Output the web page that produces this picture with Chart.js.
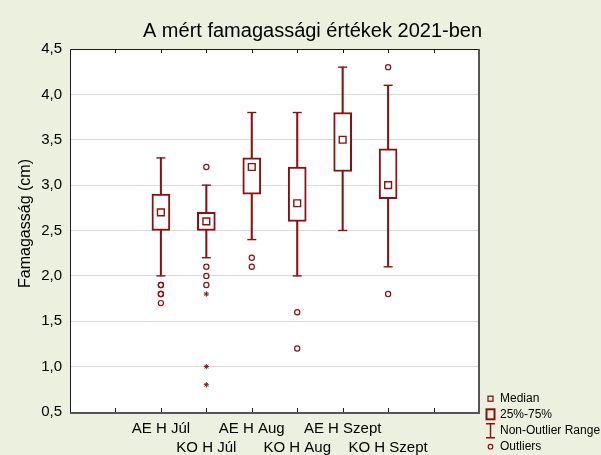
<!DOCTYPE html>
<html><head><meta charset="utf-8">
<script src="https://cdn.jsdelivr.net/npm/chart.js@4/dist/chart.umd.min.js"></script>
<style>html,body{margin:0;padding:0;background:#EBF1DE;}canvas{display:block;}</style>
</head><body>
<canvas id="c" width="601" height="455"></canvas>
<script>
const chartTitle = 'A mért famagassági értékek 2021-ben';
const yAxisTitle = 'Famagasság (cm)';
const categories = ['AE H Júl','KO H Júl','AE H Aug','KO H Aug','AE H Szept','KO H Szept'];
const medianValues = [2.7, 2.6, 3.2, 2.8, 3.5, 3.0];
const q1Values     = [2.5, 2.5, 2.9, 2.6, 3.15, 2.85];
const q3Values     = [2.9, 2.7, 3.3, 3.2, 3.8, 3.4];
const whiskerLow   = [2.0, 2.2, 2.4, 2.0, 2.5, 2.1];
const whiskerHigh  = [3.3, 3.0, 3.8, 3.8, 4.3, 4.1];
const outlierValues = [[1.9,1.9,1.8,1.8,1.7],[3.2,2.1,2.0,1.9],[2.2,2.1],[1.6,1.2],[],[4.3,1.8]];
const extremeValues = [[],[1.8,1.0,0.8],[],[],[],[]];
const legendLabels = ['Median','25%-75%','Non-Outlier Range','Outliers'];
const yTickValues = [0.5,1.0,1.5,2.0,2.5,3.0,3.5,4.0,4.5];
const xTickPositions = [1,2,3,4,5,6,7,8];

const RED = '#8b1111';
const BG = '#EBF1DE';
const FONT = '"Liberation Sans", Arial, sans-serif';
const pos = i => i + 2;

const boxData = categories.map((c,i)=>({x:pos(i), y:[q1Values[i], q3Values[i]]}));
const whiskerData = categories.map((c,i)=>({x:pos(i), y:[whiskerLow[i], whiskerHigh[i]]}));
const capData = categories.flatMap((c,i)=>[{x:pos(i), y:whiskerLow[i]},{x:pos(i), y:whiskerHigh[i]}]);
const medianData = categories.map((c,i)=>({x:pos(i), y:medianValues[i]}));
const outlierData = categories.flatMap((c,i)=>outlierValues[i].map(v=>({x:pos(i), y:v})));
const extremeData = categories.flatMap((c,i)=>extremeValues[i].map(v=>({x:pos(i), y:v})));

const decor = {
  id: 'decor',
  beforeDraw(chart) {
    const {ctx, chartArea:a, width, height} = chart;
    ctx.save();
    ctx.fillStyle = BG; ctx.fillRect(0,0,width,height);
    ctx.fillStyle = '#fff'; ctx.fillRect(a.left, a.top, a.right-a.left, a.bottom-a.top);
    ctx.restore();
  },
  afterDraw(chart) {
    const {ctx, chartArea:a} = chart;
    const L = Math.round(a.left), R = Math.round(a.right), T = Math.round(a.top), B = Math.round(a.bottom);
    ctx.save();
    // frame
    ctx.strokeStyle = '#1a1a1a'; ctx.lineWidth = 1;
    ctx.beginPath();
    ctx.moveTo(L+0.5, B); ctx.lineTo(L+0.5, T+0.5); ctx.lineTo(R, T+0.5);
    ctx.stroke();
    ctx.strokeStyle = '#555'; ctx.lineWidth = 2;
    ctx.beginPath();
    ctx.moveTo(R, T); ctx.lineTo(R, B+1); ctx.lineTo(L, B+1);
    ctx.stroke();
    // inward tick marks on x
    const xs = chart.scales.x;
    ctx.strokeStyle = '#1a1a1a'; ctx.lineWidth = 1;
    ctx.beginPath();
    xTickPositions.forEach(v => {
      const px = Math.round(xs.getPixelForValue(v)) + 0.5;
      ctx.moveTo(px, T); ctx.lineTo(px, T+4);
      ctx.moveTo(px, B); ctx.lineTo(px, B-4);
    });
    ctx.stroke();
    // title
    ctx.fillStyle = '#000';
    ctx.font = '20px ' + FONT;
    ctx.textAlign = 'center'; ctx.textBaseline = 'alphabetic';
    ctx.fillText(chartTitle, 312.5, 36.5);
    // y title
    ctx.save();
    ctx.translate(30, 223.5);
    ctx.rotate(-Math.PI/2);
    ctx.font = '16px ' + FONT;
    ctx.fillText(yAxisTitle, 0, 0);
    ctx.restore();
    // legend
    const lx = 490.5, tx = 500;
    const rows = [398.7, 414.3, 430.7, 446.7];
    ctx.strokeStyle = RED;
    ctx.lineWidth = 1.3;
    ctx.strokeRect(lx-2.5, rows[0]-2.5, 5, 5);
    ctx.lineWidth = 2;
    ctx.strokeRect(lx-4, rows[1]-5, 8, 10);
    ctx.lineWidth = 1.4;
    ctx.beginPath();
    ctx.moveTo(lx-4.5, rows[2]-7); ctx.lineTo(lx+4.5, rows[2]-7);
    ctx.moveTo(lx, rows[2]-7); ctx.lineTo(lx, rows[2]+7);
    ctx.moveTo(lx-4.5, rows[2]+7); ctx.lineTo(lx+4.5, rows[2]+7);
    ctx.stroke();
    ctx.lineWidth = 1.2;
    ctx.beginPath(); ctx.arc(lx, rows[3], 2.3, 0, Math.PI*2); ctx.stroke();
    ctx.fillStyle = '#000';
    ctx.font = '12px ' + FONT;
    ctx.textAlign = 'left'; ctx.textBaseline = 'middle';
    legendLabels.forEach((t,k) => ctx.fillText(t, tx, rows[k]));
    ctx.restore();
  }
};

new Chart(document.getElementById('c'), {
  type: 'bar',
  data: {
    datasets: [
      { type:'scatter', label:'Median', data: medianData, order: 0,
        pointStyle:'rect', radius:4.8, borderWidth:1.4, borderColor:RED, backgroundColor:'#fff', showLine:false },
      { type:'scatter', label:'Outliers', data: outlierData, order: 0,
        pointStyle:'circle', radius:2.6, borderWidth:1.2, borderColor:RED, backgroundColor:'rgba(255,255,255,0)', showLine:false },
      { type:'scatter', label:'Extremes', data: extremeData, order: 0,
        pointStyle:'star', radius:2.6, borderWidth:1, borderColor:RED, backgroundColor:RED, showLine:false },
      { type:'bar', label:'25%-75%', data: boxData, order: 1, grouped:false,
        barThickness:18, backgroundColor:'#fff', borderColor:RED, borderWidth:2, borderSkipped:false },
      { type:'scatter', label:'Caps', data: capData, order: 2,
        pointStyle:'line', radius:4.5, borderWidth:1.4, borderColor:RED, showLine:false },
      { type:'bar', label:'Non-Outlier Range', data: whiskerData, order: 3, grouped:false,
        barThickness:1.4, backgroundColor:RED, borderWidth:0 }
    ]
  },
  options: {
    responsive:false, animation:false, devicePixelRatio:1,
    layout:{ padding:{ top:49, right:122, bottom:0, left:0 } },
    plugins:{ legend:{display:false}, tooltip:{enabled:false}, title:{display:false} },
    events: [],
    scales:{
      x:{ type:'linear', min:0, max:9, offset:false,
        afterBuildTicks: s => { s.ticks = xTickPositions.map(v=>({value:v})); },
        afterFit: s => { s.height = 43; },
        grid:{ display:false, offset:false }, border:{ display:false },
        ticks:{ autoSkip:false, maxRotation:0, minRotation:0, padding:0, color:'#000',
          font:{ family:FONT, size:15, lineHeight:1.233 },
          callback: v => { const i = v - 2; if (i < 0 || i >= categories.length) return ''; return i % 2 === 0 ? [categories[i], ''] : ['', categories[i]]; } }
      },
      y:{ type:'linear', min:0.5, max:4.5,
        afterBuildTicks: s => { s.ticks = yTickValues.map(v=>({value:v})); },
        afterFit: s => { s.width = 70; },
        grid:{ color:'#d9d9d9', lineWidth:1, drawTicks:false }, border:{ display:false },
        ticks:{ padding:8, color:'#000', font:{ family:FONT, size:15 },
          callback: v => v.toFixed(1).replace('.', ',') }
      }
    }
  },
  plugins:[decor]
});
</script>
</body></html>
